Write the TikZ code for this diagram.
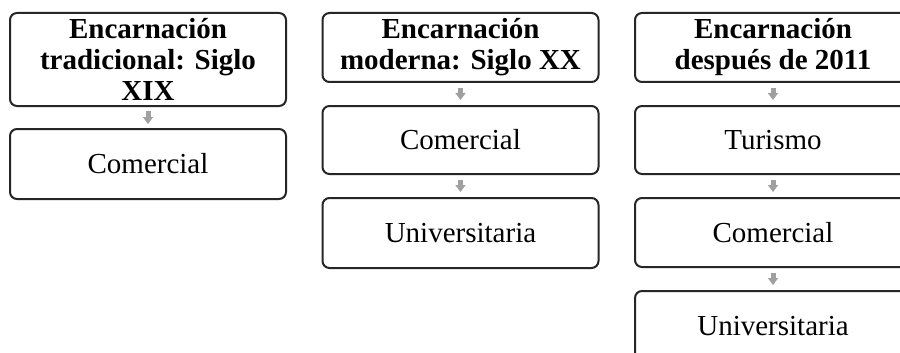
\documentclass[tikz,border=0pt]{standalone}
\usepackage{fontspec}
\setmainfont{Liberation Serif}
\usetikzlibrary{arrows.meta}
\definecolor{boxline}{HTML}{262626}
\definecolor{arrowgrey}{HTML}{A0A0A0}
\tikzset{
  box/.style={draw=boxline, line width=2pt, rounded corners=7pt, fill=white,
    minimum width=276pt, inner sep=0pt, align=center,
    font=\fontsize{29}{31}\selectfont},
  headbox/.style={box, font=\fontsize{29}{31}\selectfont\bfseries},
  flowarrow/.style={draw=arrowgrey, line width=5pt,
    -{Triangle[width=10pt,length=7pt]}, shorten <=#1, shorten >=#1},
  flowarrow/.default=4pt
}
\begin{document}
\begin{tikzpicture}[x=1pt,y=-1pt]
\clip (0,0) rectangle (900,353);
\fill[white] (0,0) rectangle (900,353);
% column 1
\node[headbox, minimum height=93pt] (h1) at (148,59.5) {Encarnación\\tradicional: Siglo\\XIX};
\node[box, minimum height=70pt] (a1) at (148,164) {Comercial};
% column 2
\node[headbox, minimum height=69pt] (h2) at (460.5,47.5) {Encarnación\\moderna: Siglo XX};
\node[box, minimum height=68pt] (a2) at (460.5,140) {Comercial};
\node[box, minimum height=70pt] (b2) at (460.5,233) {Universitaria};
% column 3
\node[headbox, minimum height=69pt] (h3) at (773,47.5) {Encarnación\\después de 2011};
\node[box, minimum height=68pt] (a3) at (773,140) {Turismo};
\node[box, minimum height=69pt] (b3) at (773,232.5) {Comercial};
\node[box, minimum height=70pt] (c3) at (773,326) {Universitaria};
% arrows
\draw[flowarrow] (h1) -- (a1);
\draw[flowarrow=5pt] (h2) -- (a2);
\draw[flowarrow=5pt] (a2) -- (b2);
\draw[flowarrow=5pt] (h3) -- (a3);
\draw[flowarrow=5pt] (a3) -- (b3);
\draw[flowarrow=5pt] (b3) -- (c3);
\end{tikzpicture}
\end{document}
